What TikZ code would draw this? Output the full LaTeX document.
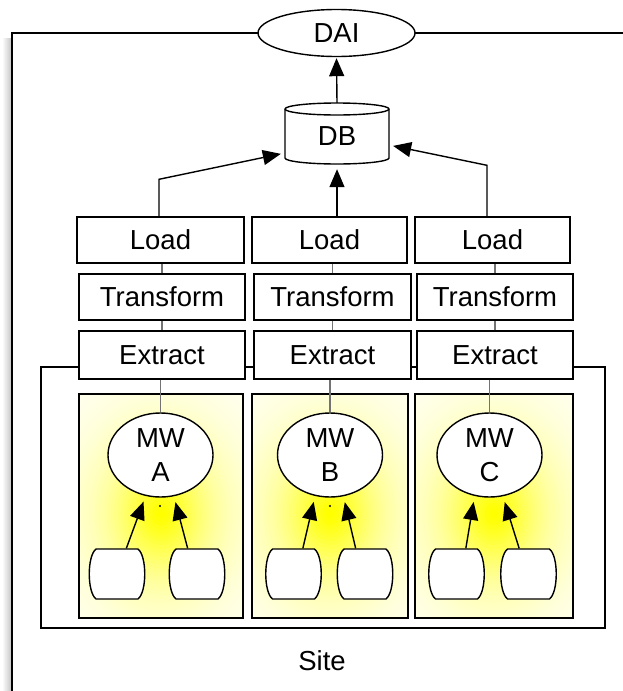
\documentclass[tikz,border=0pt]{standalone}
\usepackage{fontspec}
\setmainfont{Liberation Sans}
\usetikzlibrary{arrows.meta,shapes.geometric,calc}

\definecolor{glowcore}{RGB}{255,255,0}
\definecolor{glowbase}{RGB}{255,255,236}

% a barrel-shaped data source
\newcommand\srcbarrel[3]{%
  \node[src] (#1) at (#2,#3) {};
  \draw[thick line, fill=white, shift={(#2,#3)}]
    (-21,-25) -- (21,-25) .. controls (30,-18) and (30,18) .. (21,25)
    -- (-21,25) .. controls (-30,18) and (-30,-18) .. (-21,-25) -- cycle;}

% soft yellow glow: stacked translucent ellipses, densest at the centre
\newcommand\mwglow{%
  \fill[glowbase] (path picture bounding box.south west)
    rectangle (path picture bounding box.north east);
  \foreach \k in {40,39,...,1}{%
    \pgfmathsetmacro\sa{(\k-1)/40}%
    \pgfmathsetmacro\sb{\k/40}%
    \pgfmathsetmacro\op{1-(1-exp(-(\sa/0.4)^1.3))/(1-exp(-(\sb/0.4)^1.3))}%
    \fill[glowcore, fill opacity=\op]
      ([yshift=-8pt]path picture bounding box.center)
      ellipse [x radius=\sb*125pt, y radius=\sb*155pt];
  }}

\begin{document}
\begin{tikzpicture}[x=1pt,y=-1pt,
  font=\fontsize{27.5}{34}\selectfont,
  thick line/.style={line width=1.4pt},
  stage/.style={draw, thick line, fill=white, minimum height=46pt, inner sep=0pt},
  arr/.style={thick line, -{Triangle[length=18pt,width=15pt]}},
  link/.style={draw=black!55, line width=1.2pt},
  mw/.style={ellipse, draw, thick line, fill=white, minimum width=105pt,
    minimum height=84pt, inner sep=0pt, align=center},
  ybox/.style={draw, thick line, minimum height=224pt, inner sep=0pt,
    path picture={\mwglow}},
  src/.style={minimum width=56pt, minimum height=51pt, inner sep=0pt},
]
\useasboundingbox (0,0) rectangle (623,691);

% outer frame with its soft shadow
\shade[left color=white, right color=black!22] (2,38) rectangle (11,691);
\draw[thick line] (12,700) -- (12,33) -- (640,33);

% site enclosure
\node[draw, thick line, minimum width=564pt, minimum height=261pt, inner sep=0pt]
  (siteframe) at (323,497.5) {};
\node (sitelabel) at (322,661) {Site};

% middleware areas
\node[ybox, minimum width=164pt] (boxA) at (161,506) {};
\node[ybox, minimum width=156pt] (boxB) at (330,506) {};
\node[ybox, minimum width=158pt] (boxC) at (494,506) {};

% ETL stages
\node[stage, minimum width=167pt] (loadA) at (160.5,240) {Load};
\node[stage, minimum width=155pt] (loadB) at (329.5,240) {Load};
\node[stage, minimum width=155pt] (loadC) at (492.5,240) {Load};
\node[stage, minimum width=166pt] (transA) at (162,297) {Transform};
\node[stage, minimum width=157pt] (transB) at (332.5,297) {Transform};
\node[stage, minimum width=156pt] (transC) at (495,297) {Transform};
\node[stage, minimum width=166pt, minimum height=48pt] (extA) at (162,355) {Extract};
\node[stage, minimum width=157pt, minimum height=48pt] (extB) at (332.5,355) {Extract};
\node[stage, minimum width=156pt, minimum height=48pt] (extC) at (495,355) {Extract};

% middleware
\node[mw] (mwA) at (160.5,455) {MW\\A};
\node[mw] (mwB) at (330,455) {MW\\B};
\node[mw] (mwC) at (489.5,455) {MW\\C};
\fill (160,506) circle (1.1pt);
\fill (330,506) circle (1.1pt);

% data sources
\srcbarrel{srcA1}{117}{574}
\srcbarrel{srcA2}{197}{574}
\srcbarrel{srcB1}{293.5}{574}
\srcbarrel{srcB2}{365}{574}
\srcbarrel{srcC1}{456.5}{574}
\srcbarrel{srcC2}{528.5}{574}

% stage links
\foreach \c in {A,B,C}{
  \draw[link] (trans\c.north) -- (trans\c.north |- load\c.south);
  \draw[link] (ext\c.north) -- (ext\c.north |- trans\c.south);
  \draw[link] (mw\c.north |- ext\c.south) -- (mw\c.north);
  \draw[arr, shorten >=6pt] (src\c1.70) -- (mw\c.250);
  \draw[arr, shorten >=6pt] (src\c2.110) -- (mw\c.288);
}

% warehouse and access interface
\node[minimum width=104pt, minimum height=62pt, inner sep=0pt] (db) at (337,134) {};
\draw[thick line, fill=white, shift={(337,134)}]
  (-52,-25) -- (-52,24) arc[start angle=180, end angle=360, x radius=52pt, y radius=6pt]
  -- (52,-25) arc[start angle=0, end angle=180, x radius=52pt, y radius=6pt] -- cycle;
\draw[thick line, shift={(337,134)}]
  (-52,-25) arc[start angle=180, end angle=360, x radius=52pt, y radius=6pt];
\node at (db) [yshift=-2pt] {DB};

\node[ellipse, draw, thick line, fill=white, minimum width=157pt, minimum height=47pt,
  inner sep=0pt] (dai) at (336.5,33) {DAI};

\draw[arr, shorten >=1pt] (db.north) -- (dai.south);
\draw[arr, shorten >=4pt] (db.south |- loadB.north) -- (db.south);
\draw[arr, shorten >=4pt] ([xshift=-1.5pt]loadA.north)
  -- ([xshift=-1.5pt, yshift=37pt]loadA.north) -- (db.200);
\draw[arr, shorten >=4pt] ([xshift=-5.5pt]loadC.north)
  -- ([xshift=-5.5pt, yshift=51pt]loadC.north) -- (db.-12);
\end{tikzpicture}
\end{document}
